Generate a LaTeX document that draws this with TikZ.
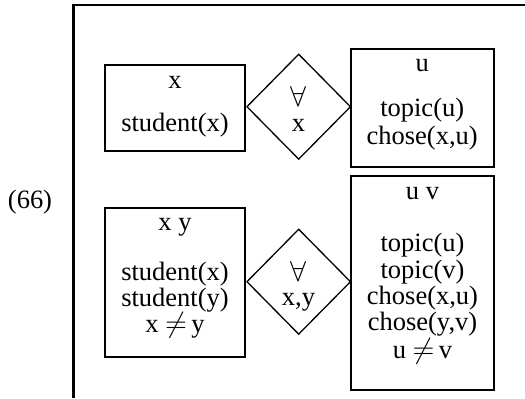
\documentclass[tikz,border=0pt]{standalone}
\usepackage{fontspec}
\setmainfont{Liberation Serif}
\usetikzlibrary{shapes.geometric,fit}
\begin{document}
\begin{tikzpicture}[x=0.5pt,y=-0.5pt,
  font=\fontsize{13.25}{13.25}\selectfont,
  drsbox/.style={draw, line width=1pt, inner sep=0pt},
  quant/.style={draw, diamond, line width=0.65pt, inner sep=0pt, minimum width=52pt, minimum height=52.7pt},
  txt/.style={anchor=base, inner sep=0pt},
  frameline/.style={line width=1.35pt}]
\useasboundingbox (0,0) rectangle (525,398);
% outer frame
\coordinate (ftop) at (525,5);
\coordinate (fcorner) at (73.3,5);
\coordinate (fbot) at (73.3,398);
\draw[frameline] (ftop) -- (fcorner) -- (fbot);
% label
\node[txt] (lab) at (30,208) {(66)};
% boxes
\node[drsbox, fit={(105,65) (245,151)}] (b1) {};
\node[drsbox, fit={(351,49) (493.5,166.7)}] (b2) {};
\node[drsbox, fit={(105,208.3) (245,356.7)}] (b3) {};
\node[drsbox, fit={(351,176) (494,390)}] (b4) {};
% diamonds
\node[quant] (d1) at (298.7,106.7) {};
\node[quant] (d2) at (298.7,281.7) {};
% box 1 text
\node[txt] (b1u) at (175,88.3) {x};
\node[txt] (b1c1) at (175,131) {student(x)};
% diamond 1 text
\node[txt] (d1q) at (298.5,106.7) {$\forall$};
\node[txt] (d1v) at (298.5,131.7) {x};
% box 2 text
\node[txt] (b2u) at (422.2,71.7) {u};
\node[txt] (b2c1) at (422.2,116.7) {topic(u)};
\node[txt] (b2c2) at (422.2,144.3) {chose(x,u)};
% box 3 text
\node[txt] (b3u) at (175,230) {x y};
\node[txt] (b3c1) at (175,280.5) {student(x)};
\node[txt] (b3c2) at (175,306) {student(y)};
\node[txt] (b3c3) at (175,332.5) {x $\neq$\,y};
% diamond 2 text
\node[txt] (d2q) at (298.5,281.7) {$\forall$};
\node[txt] (d2v) at (298.5,305) {x,y};
% box 4 text
\node[txt] (b4u) at (422.5,199.3) {u v};
\node[txt] (b4c1) at (422.5,251.7) {topic(u)};
\node[txt] (b4c2) at (422.5,278) {topic(v)};
\node[txt] (b4c3) at (422.5,304) {chose(x,u)};
\node[txt] (b4c4) at (422.5,330.5) {chose(y,v)};
\node[txt] (b4c5) at (422.5,358) {u $\neq$\,v};
\end{tikzpicture}
\end{document}
